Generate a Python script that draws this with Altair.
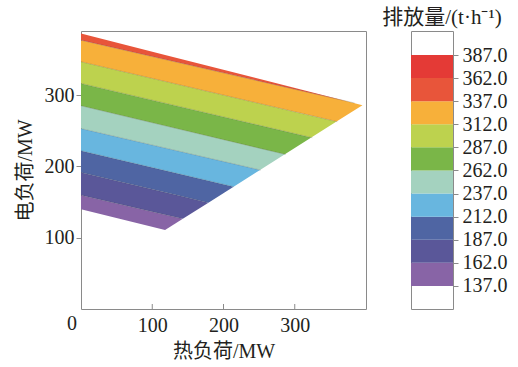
import altair as alt
import pandas as pd

# Feasible operating region (heat load, power load), corner points in order
heat_vertices = [0, 395, 118, 0]
power_vertices = [386.5, 286, 110.7, 140]

# Emission contour levels (t/h) and their band colours
levels = [137, 162, 187, 212, 237, 262, 287, 312, 337, 362, 387]
band_colors = ["#8864A6", "#5A5799", "#4F65A3", "#68B6DF", "#A4D2BF",
               "#7AB648", "#BDD24E", "#F7B03A", "#E8553A", "#E43A36"]

# Iso-emission lines: power at heat = 0, and where each line meets the region edge
iso_levels = [162, 187, 212, 237, 262, 287, 312, 337]
iso_power_start = [159.7, 191.6, 222.0, 253.1, 285.1, 316.4, 346.8, 377.1]
iso_heat_end = [141.1, 177.5, 214.5, 252.3, 287.4, 324.8, 359.9, 384.0]
iso_power_end = [126.9, 149.5, 171.5, 194.8, 216.8, 240.2, 262.7, 289.0]

FONT = "Liberation Serif, Noto Sans CJK SC"
TEXT = "#231F20"
FRAME = "#8A8A8A"


def line_through(x1, y1, x2, y2):
    b = (y2 - y1) / (x2 - x1)
    return (y1 - b * x1, b)


top_edge = line_through(heat_vertices[0], power_vertices[0], heat_vertices[1], power_vertices[1])
right_edge = line_through(heat_vertices[2], power_vertices[2], heat_vertices[1], power_vertices[1])
bottom_edge = line_through(heat_vertices[3], power_vertices[3], heat_vertices[2], power_vertices[2])
iso_lines = {lv: line_through(0, p0, h1, p1)
             for lv, p0, h1, p1 in zip(iso_levels, iso_power_start, iso_heat_end, iso_power_end)}

x_min, x_max = min(heat_vertices), max(heat_vertices)
band_names = [f"{levels[i]}-{levels[i + 1]}" for i in range(len(levels) - 1)]

# Each band = region between its two iso-lines, clipped to the operating region.
rows = []
for i in range(len(levels) - 1):
    lo, hi = levels[i], levels[i + 1]
    if lo != levels[0] and lo not in iso_lines:
        continue
    lower = [bottom_edge, right_edge] + ([iso_lines[lo]] if lo in iso_lines else [])
    upper = [top_edge] + ([iso_lines[hi]] if hi in iso_lines else [])
    allk = lower + upper
    xs = {x_min, x_max}
    for a in range(len(allk)):
        for c in range(a + 1, len(allk)):
            (a1, b1), (a2, b2) = allk[a], allk[c]
            if abs(b1 - b2) > 1e-12:
                xc = (a2 - a1) / (b1 - b2)
                if x_min <= xc <= x_max:
                    xs.add(round(xc, 6))
    for x in sorted(xs):
        ylo = max(a + b * x for a, b in lower)
        yhi = min(a + b * x for a, b in upper)
        if yhi >= ylo - 1e-6:
            rows.append({"band": band_names[i], "heat": x, "p_lo": ylo, "p_hi": max(yhi, ylo)})
bands = pd.DataFrame(rows)

iso_df = pd.DataFrame(
    [{"level": lv, "heat": 0, "power": p0} for lv, p0 in zip(iso_levels, iso_power_start)]
    + [{"level": lv, "heat": h1, "power": p1} for lv, h1, p1 in zip(iso_levels, iso_heat_end, iso_power_end)]
)

color_scale = alt.Scale(domain=band_names, range=band_colors)

W, H = 285, 278
x_scale = alt.Scale(domain=[0, 400], nice=False)
y_scale = alt.Scale(domain=[0, 390], nice=False)

areas = alt.Chart(bands).mark_area(interpolate="linear").encode(
    x=alt.X("heat:Q", scale=x_scale,
            axis=alt.Axis(values=[100, 200, 300], title="热负荷/MW", ticks=False,
                          domain=False, grid=False, labelPadding=6, titlePadding=6)),
    y=alt.Y("p_lo:Q", stack=None, scale=y_scale,
            axis=alt.Axis(values=[100, 200, 300], title="电负荷/MW", tickSize=5,
                          domain=False, grid=False, labelPadding=2, titlePadding=9)),
    y2="p_hi:Q",
    color=alt.Color("band:N", scale=color_scale, legend=None),
)

iso = alt.Chart(iso_df).mark_line(color="#3a3a3a", strokeWidth=0.6, opacity=0.35).encode(
    x=alt.X("heat:Q", scale=x_scale),
    y=alt.Y("power:Q", scale=y_scale),
    detail="level:N",
)

inner_ticks = alt.Chart(pd.DataFrame({"heat": [100, 200, 300]})).mark_rule(
    color=FRAME, strokeWidth=1
).encode(
    x=alt.X("heat:Q", scale=x_scale),
    y=alt.value(H),
    y2=alt.value(H - 5),
)

origin = alt.Chart(pd.DataFrame({"t": ["0"]})).mark_text(
    font=FONT, fontSize=20, color=TEXT, baseline="top", align="center"
).encode(x=alt.value(-9), y=alt.value(H + 5), text="t:N")

main = alt.layer(areas, iso, inner_ticks, origin).properties(width=W, height=H)

bar_df = pd.DataFrame({"band": band_names, "lo": levels[:-1], "hi": levels[1:]})
colorbar = alt.Chart(bar_df).mark_rect().encode(
    y=alt.Y("lo:Q", scale=alt.Scale(domain=[112, 413], nice=False, zero=False),
            axis=alt.Axis(orient="right", values=levels, format=".1f", title=None,
                          tickSize=5, domain=False, grid=False, labelPadding=4)),
    y2="hi:Q",
    x=alt.value(0),
    x2=alt.value(42),
    color=alt.Color("band:N", scale=color_scale, legend=None),
).properties(
    width=42, height=H,
    title=alt.TitleParams("排放量/(t·h⁻¹)", font=FONT, fontSize=21, fontWeight="normal",
                          color=TEXT, anchor="middle", dx=10, offset=3),
)

chart = alt.hconcat(main, colorbar, spacing=45, bounds="flush").properties(
    padding={"left": 14, "top": 6, "right": 2, "bottom": 2},
    background="white",
).configure_axis(
    labelFont=FONT, titleFont=FONT, labelFontSize=20, titleFontSize=20,
    labelColor=TEXT, titleColor=TEXT, titleFontWeight="normal",
    tickColor=FRAME,
).configure_view(stroke=FRAME, strokeWidth=1)

chart.save("out.html", embed_options={"renderer": "svg", "actions": False})
